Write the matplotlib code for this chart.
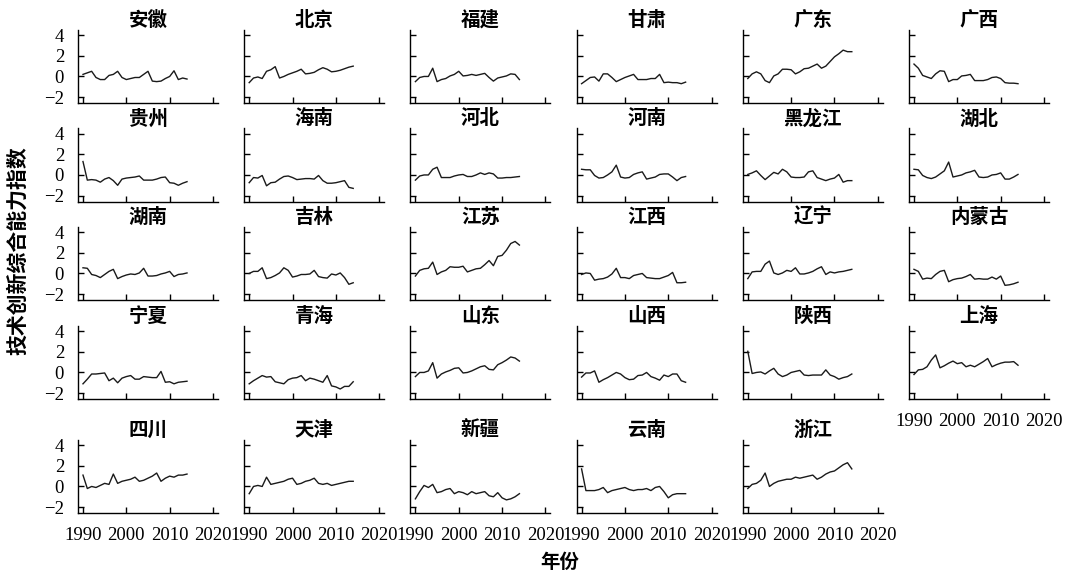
import numpy as np
import matplotlib
matplotlib.use("Agg")
from matplotlib import pyplot as plt

years = list(range(1990, 2015))

# technology innovation index per province, 1990-2014
anhui = [0.2, 0.35, 0.5, -0.1, -0.3, -0.3, 0.1, 0.2, 0.5, -0.1, -0.3, -0.2, -0.1, -0.1, 0.2, 0.5, -0.45, -0.5, -0.45, -0.2, 0.0, 0.55, -0.3, -0.15, -0.25]
beijing = [-0.6, -0.15, -0.05, -0.2, 0.5, 0.65, 0.95, -0.15, 0.0, 0.2, 0.35, 0.5, 0.7, 0.25, 0.3, 0.4, 0.65, 0.85, 0.7, 0.45, 0.5, 0.6, 0.75, 0.9, 1.0]
fujian = [-0.5, -0.1, 0.0, 0.0, 0.8, -0.5, -0.3, -0.2, 0.05, 0.2, 0.5, 0.05, 0.1, 0.2, 0.1, 0.2, 0.3, -0.1, -0.45, -0.15, -0.05, 0.05, 0.25, 0.2, -0.3]
gansu = [-0.7, -0.4, -0.1, -0.05, -0.45, 0.25, 0.25, -0.1, -0.5, -0.3, -0.1, 0.05, 0.2, -0.3, -0.3, -0.3, -0.2, -0.2, 0.2, -0.6, -0.55, -0.6, -0.6, -0.7, -0.55]
guangdong = [-0.2, 0.25, 0.45, 0.25, -0.4, -0.6, 0.05, 0.25, 0.7, 0.7, 0.65, 0.25, 0.45, 0.75, 0.8, 1.0, 1.2, 0.8, 1.0, 1.45, 1.9, 2.2, 2.55, 2.4, 2.4]
guangxi = [1.2, 0.8, 0.1, -0.05, -0.2, 0.25, 0.55, 0.5, -0.5, -0.3, -0.3, 0.05, 0.1, 0.2, -0.4, -0.4, -0.4, -0.3, -0.1, -0.05, -0.2, -0.6, -0.65, -0.65, -0.7]
guizhou = [1.3, -0.5, -0.45, -0.5, -0.7, -0.4, -0.25, -0.55, -1.0, -0.4, -0.3, -0.25, -0.2, -0.1, -0.5, -0.5, -0.5, -0.4, -0.25, -0.2, -0.75, -0.8, -1.0, -0.8, -0.65]
hainan = [-0.75, -0.25, -0.3, -0.05, -1.05, -0.75, -0.7, -0.4, -0.15, -0.1, -0.25, -0.45, -0.4, -0.35, -0.35, -0.4, -0.05, -0.55, -0.8, -0.8, -0.75, -0.65, -0.55, -1.2, -1.3]
hebei = [-0.5, -0.1, 0.0, 0.0, 0.55, 0.75, -0.25, -0.25, -0.25, -0.1, 0.0, 0.05, -0.15, -0.15, 0.0, 0.2, 0.05, 0.2, 0.1, -0.3, -0.3, -0.25, -0.25, -0.2, -0.15]
henan = [0.55, 0.5, 0.5, -0.05, -0.3, -0.25, 0.0, 0.3, 0.95, -0.2, -0.3, -0.25, 0.05, 0.2, 0.3, -0.4, -0.3, -0.2, 0.05, 0.1, 0.1, -0.2, -0.55, -0.25, -0.15]
heilongjiang = [0.05, 0.2, 0.4, -0.05, -0.45, -0.1, 0.25, 0.1, 0.55, 0.3, -0.2, -0.25, -0.25, -0.2, 0.3, 0.4, -0.25, -0.4, -0.55, -0.4, -0.3, 0.05, -0.7, -0.55, -0.55]
hubei = [0.55, 0.5, -0.05, -0.25, -0.35, -0.2, 0.1, 0.4, 1.25, -0.2, -0.1, 0.0, 0.2, 0.3, 0.45, -0.2, -0.25, -0.2, 0.0, 0.05, 0.2, -0.4, -0.4, -0.2, 0.05]
hunan = [0.55, 0.5, -0.1, -0.2, -0.4, -0.1, 0.2, 0.4, -0.5, -0.3, -0.15, -0.05, -0.1, 0.05, 0.5, -0.25, -0.25, -0.2, -0.05, 0.05, 0.2, -0.3, -0.1, -0.05, 0.05]
jilin = [0.0, 0.2, 0.2, 0.55, -0.5, -0.4, -0.2, 0.05, 0.55, 0.3, -0.35, -0.25, -0.1, -0.1, -0.05, 0.3, -0.3, -0.4, -0.45, -0.05, -0.15, 0.05, -0.4, -1.05, -0.9]
jiangsu = [-0.25, 0.3, 0.45, 0.5, 1.1, -0.1, 0.15, 0.3, 0.65, 0.6, 0.6, 0.7, 0.15, 0.3, 0.45, 0.5, 0.85, 1.25, 0.75, 1.65, 1.75, 2.25, 2.9, 3.1, 2.75]
jiangxi = [-0.1, 0.05, 0.0, -0.65, -0.55, -0.5, -0.35, -0.05, 0.5, -0.4, -0.4, -0.5, -0.2, -0.1, 0.0, -0.4, -0.45, -0.5, -0.5, -0.35, -0.2, 0.1, -0.9, -0.9, -0.85]
liaoning = [-0.5, 0.15, 0.2, 0.2, 0.9, 1.2, 0.05, -0.1, 0.05, 0.3, 0.2, 0.55, -0.05, -0.05, 0.05, 0.2, 0.45, 0.65, -0.1, 0.15, 0.05, 0.15, 0.2, 0.3, 0.4]
neimenggu = [0.4, 0.2, -0.55, -0.45, -0.5, -0.1, 0.2, 0.3, -0.8, -0.6, -0.5, -0.45, -0.3, -0.1, -0.55, -0.5, -0.55, -0.55, -0.35, -0.55, -0.25, -1.15, -1.1, -1.0, -0.85]
ningxia = [-1.1, -0.65, -0.15, -0.15, -0.1, -0.05, -0.8, -0.55, -1.0, -0.55, -0.4, -0.3, -0.65, -0.65, -0.4, -0.45, -0.5, -0.5, 0.1, -0.95, -0.9, -1.1, -0.95, -0.9, -0.85]
qinghai = [-1.1, -0.8, -0.55, -0.3, -0.45, -0.4, -0.9, -1.0, -1.1, -0.7, -0.55, -0.5, -0.3, -0.8, -0.55, -0.65, -0.8, -0.95, -0.3, -1.3, -1.4, -1.6, -1.35, -1.35, -0.9]
shandong = [-0.4, 0.0, 0.0, 0.15, 0.95, -0.55, -0.15, 0.05, 0.2, 0.4, 0.45, -0.05, 0.0, 0.15, 0.35, 0.55, 0.65, 0.3, 0.25, 0.75, 0.95, 1.2, 1.5, 1.4, 1.1]
shanxi = [-0.45, -0.05, -0.05, 0.15, -0.95, -0.7, -0.5, -0.25, 0.0, -0.15, -0.5, -0.7, -0.65, -0.3, -0.25, 0.0, -0.4, -0.55, -0.75, -0.25, -0.4, -0.15, -0.15, -0.8, -0.95]
shaanxi = [2.05, -0.1, 0.0, 0.05, -0.15, 0.15, 0.4, -0.15, -0.4, -0.25, 0.0, 0.1, 0.2, -0.25, -0.3, -0.25, -0.25, -0.25, 0.25, -0.25, -0.4, -0.65, -0.5, -0.4, -0.15]
shanghai = [-0.2, 0.25, 0.3, 0.55, 1.2, 1.7, 0.45, 0.65, 0.9, 1.1, 0.85, 0.95, 0.55, 0.7, 0.55, 0.8, 1.05, 1.35, 0.55, 0.75, 0.9, 1.0, 1.0, 1.05, 0.7]
sichuan = [1.1, -0.2, 0.0, -0.1, 0.1, 0.3, 0.2, 1.2, 0.3, 0.5, 0.6, 0.7, 0.9, 0.5, 0.6, 0.8, 1.0, 1.3, 0.5, 0.8, 1.0, 0.9, 1.1, 1.1, 1.2]
tianjin = [-0.7, 0.0, 0.1, 0.0, 0.9, 0.2, 0.3, 0.4, 0.5, 0.7, 0.8, 0.2, 0.3, 0.5, 0.6, 0.8, 0.3, 0.2, 0.3, 0.1, 0.2, 0.3, 0.4, 0.5, 0.5]
xinjiang = [-1.2, -0.5, 0.1, -0.1, 0.2, -0.6, -0.5, -0.3, -0.2, -0.7, -0.5, -0.6, -0.8, -0.5, -0.7, -0.6, -0.5, -0.9, -1.0, -0.6, -1.1, -1.3, -1.2, -1.0, -0.7]
yunnan = [1.7, -0.4, -0.4, -0.4, -0.3, -0.1, -0.6, -0.4, -0.3, -0.2, -0.1, -0.3, -0.4, -0.3, -0.3, -0.2, -0.4, -0.1, 0.0, -0.5, -1.1, -0.8, -0.7, -0.7, -0.7]
zhejiang = [-0.2, 0.2, 0.3, 0.6, 1.3, 0.0, 0.3, 0.5, 0.6, 0.7, 0.7, 0.9, 0.8, 0.9, 1.0, 1.1, 0.7, 0.9, 1.2, 1.4, 1.5, 1.8, 2.1, 2.3, 1.7]

provinces = ["安徽", "北京", "福建", "甘肃", "广东", "广西",
             "贵州", "海南", "河北", "河南", "黑龙江", "湖北",
             "湖南", "吉林", "江苏", "江西", "辽宁", "内蒙古",
             "宁夏", "青海", "山东", "山西", "陕西", "上海",
             "四川", "天津", "新疆", "云南", "浙江"]
series = [anhui, beijing, fujian, gansu, guangdong, guangxi,
          guizhou, hainan, hebei, henan, heilongjiang, hubei,
          hunan, jilin, jiangsu, jiangxi, liaoning, neimenggu,
          ningxia, qinghai, shandong, shanxi, shaanxi, shanghai,
          sichuan, tianjin, xinjiang, yunnan, zhejiang]

W, H = 1068, 571
fig = plt.figure(figsize=(W / 100, H / 100), dpi=100)

serif = "Liberation Serif"
cjk = "Noto Sans CJK SC"

# panel geometry in pixels
col_left = [78 + 166.2 * c for c in range(6)]
row_top = [30, 128.5, 227, 326, 440]
ax_w, ax_h = 140, 73.3

for i, (name, vals) in enumerate(zip(provinces, series)):
    r, c = divmod(i, 6)
    x0 = col_left[c] / W
    y0 = 1 - (row_top[r] + ax_h) / H
    ax = fig.add_axes([x0, y0, ax_w / W, ax_h / H])
    ax.plot(years, vals, color="#1a1a1a", lw=1.0)
    ax.set_xlim(1988.85, 2021.15)
    ax.set_ylim(-2.6, 4.5)
    ax.set_xticks([1990, 2000, 2010, 2020])
    ax.set_yticks([-2, 0, 2, 4])
    for s in ["top", "right"]:
        ax.spines[s].set_visible(False)
    for s in ["left", "bottom"]:
        ax.spines[s].set_linewidth(1.0)
    ax.tick_params(direction="in", length=4, width=1.0, pad=10, labelsize=13.5)
    # tick labels only on the outer panels
    bottom_of_col = (r == 4) or (r == 3 and c == 5)
    ax.tick_params(labelbottom=bottom_of_col, labelleft=(c == 0))
    for lab in ax.get_xticklabels() + ax.get_yticklabels():
        lab.set_fontfamily(serif)
    ax.set_title(name, fontfamily=cjk, fontweight="bold", fontsize=14, pad=3)

fig.text(18 / W, 1 - 251 / H, "技术创新综合能力指数", rotation=90, ha="center", va="center",
         fontfamily=cjk, fontweight="bold", fontsize=15)
fig.text(560 / W, 1 - 562 / H, "年份", ha="center", va="center",
         fontfamily=cjk, fontweight="bold", fontsize=14)

fig.savefig("out.png", dpi=100)
